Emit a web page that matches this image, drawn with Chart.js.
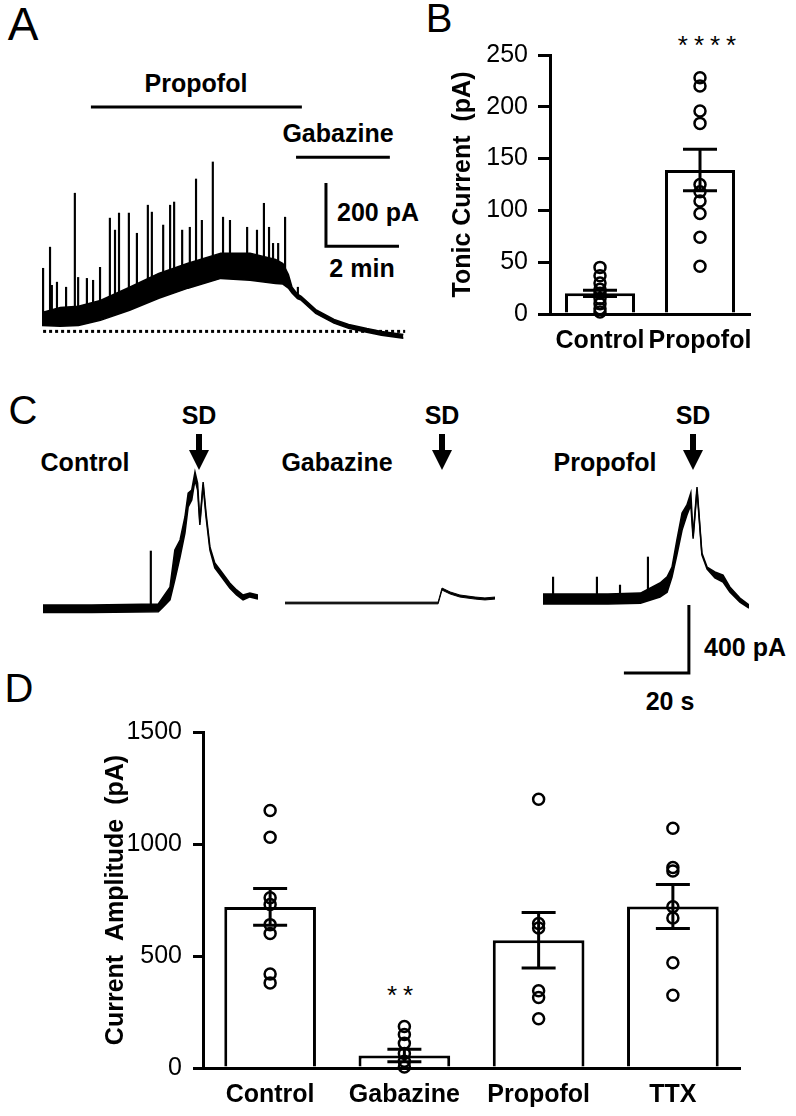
<!DOCTYPE html>
<html>
<head>
<meta charset="utf-8">
<title>Tonic current and SD-evoked current</title>
<script src="https://cdn.jsdelivr.net/npm/chart.js@4.4.1/dist/chart.umd.min.js"></script>
<style>
  body { margin: 0; background: #fff; font-family: "Liberation Sans", Arial, sans-serif; }
  #page { position: relative; width: 796px; height: 1116px; overflow: hidden; }
  .box { position: absolute; }
  .txt { position: absolute; transform: translate(-50%, -50%); font-size: 25px; font-weight: bold; white-space: nowrap; line-height: 1; }
  .letter { position: absolute; transform: translate(-50%, -50%); font-size: 40px; line-height: 1; }
  .stars { position: absolute; transform: translate(-50%, -50%); font-size: 26px; letter-spacing: 6px; line-height: 1; }
  .shaft { position: absolute; width: 6px; height: 17px; background: #000; }
  .head { position: absolute; width: 0; height: 0; border-left: 10px solid transparent; border-right: 10px solid transparent; border-top: 20px solid #000; }
</style>
</head>
<body>
<div id="page">
  <!-- A -->
  <div class="letter" style="left:23px;top:24px;font-size:46px">A</div>
  <div class="txt" style="left:196px;top:83px">Propofol</div>
  <div class="txt" style="left:338px;top:133px">Gabazine</div>
  <div class="txt" style="left:378px;top:212px">200 pA</div>
  <div class="txt" style="left:362px;top:268px">2 min</div>
  <div class="box" style="left:42px;top:79px;width:365px;height:265px"><canvas id="traceA"></canvas></div>

  <!-- B -->
  <div class="letter" style="left:439px;top:18px">B</div>
  <div class="stars" style="left:710px;top:45px">****</div>
  <div class="box" style="left:420px;top:30px;width:350px;height:340px"><canvas id="barB"></canvas></div>

  <!-- C -->
  <div class="letter" style="left:23px;top:410px">C</div>
  <div class="txt" style="left:199px;top:415px">SD</div>
  <div class="txt" style="left:442px;top:415px">SD</div>
  <div class="txt" style="left:693px;top:415px">SD</div>
  <div class="shaft" style="left:196px;top:434px"></div><div class="head" style="left:189px;top:450px"></div>
  <div class="shaft" style="left:439px;top:434px"></div><div class="head" style="left:432px;top:450px"></div>
  <div class="shaft" style="left:690px;top:434px"></div><div class="head" style="left:683px;top:450px"></div>
  <div class="txt" style="left:85px;top:462px">Control</div>
  <div class="txt" style="left:337px;top:462px">Gabazine</div>
  <div class="txt" style="left:605px;top:462px">Propofol</div>
  <div class="txt" style="left:745px;top:647px">400 pA</div>
  <div class="txt" style="left:670px;top:701px">20 s</div>
  <div class="box" style="left:43px;top:456px;width:215px;height:170px"><canvas id="traceC1"></canvas></div>
  <div class="box" style="left:285px;top:450px;width:210px;height:170px"><canvas id="traceC2"></canvas></div>
  <div class="box" style="left:543px;top:446px;width:206px;height:238px"><canvas id="traceC3"></canvas></div>

  <!-- D -->
  <div class="letter" style="left:19px;top:688px">D</div>
  <div class="stars" style="left:403px;top:995px">**</div>
  <div class="box" style="left:80px;top:700px;width:680px;height:416px"><canvas id="barD"></canvas></div>
</div>

<script>
  "use strict";

  // ---- A: tonic current trace (time in min, current in pA above baseline)
  var traceA_t = [0, 0.5, 1.0, 1.6, 2.4, 3.2, 4.0, 4.9, 5.7, 6.4, 6.6, 6.75, 6.85, 7.0, 7.1, 7.5, 8.0, 8.4, 8.9, 9.3, 9.9];
  var traceA_hi = [60, 76, 80, 98, 140, 184, 216, 248, 248, 228, 215, 180, 140, 118, 111, 69, 38, 22, 9, 0, -10];
  var traceA_lo = [19, 16, 19, 35, 67, 105, 137, 168, 162, 152, 150, 137, 122, 104, 99, 57, 26, 10, -3, -12, -22];
  var spikeA_t = [0.03, 0.22, 0.27, 0.41, 0.66, 0.90, 0.99, 1.23, 1.40, 1.59, 1.86, 2.00, 2.11, 2.38, 2.60, 2.90, 3.01, 3.32,
    3.51, 3.62, 3.84, 4.05, 4.22, 4.38, 4.68, 4.96, 5.15, 5.62, 5.89, 6.08, 6.22, 6.33, 6.47, 6.66, 7.01];
  var spikeA_top = [200, 267, 146, 156, 140, 438, 171, 168, 162, 203, 359, 321, 375, 375, 311, 400, 378, 337,
    400, 410, 321, 330, 483, 352, 537, 362, 352, 330, 321, 406, 330, 279, 279, 362, 140];
  var spikeA_base = [40, 40, 40, 40, 40, 45, 45, 50, 55, 60, 80, 85, 90, 100, 110, 130, 135, 150,
    160, 165, 170, 180, 185, 190, 200, 205, 205, 205, 200, 200, 195, 190, 185, 180, 110];
  var propofolA = [1.34, 7.12];   // application period, min
  var gabazineA = [6.96, 9.53];
  var scaleA = { min: 2, pA: 200 };

  // ---- B: tonic current
  var groupsB = ["Control", "Propofol"];
  var meanB = [20, 139];
  var semB = [3, 20];
  var controlB = [45, 37, 30, 24, 20, 15, 10, 5, 2];
  var propofolB = [228, 220, 196, 184, 125, 118, 109, 97, 74, 46];

  // ---- C: SD currents (time in s, current in pA)
  var controlC_t = [0, 15, 35.5, 37.0, 39.1, 40.6, 42.2, 43.7, 44.7, 45.8, 46.8, 47.6, 48.3, 49.3, 50.2, 51.4, 52.9, 55.0, 57.5, 59.6, 61.6, 63.7, 66.2];
  var controlC_hi = [24, 24, 30, 71, 129, 347, 406, 541, 682, 700, 806, 741, 512, 747, 565, 365, 271, 218, 153, 112, 82, 94, 82];
  var controlC_lo = [-20, -20, -16, 12, 53, 171, 306, 447, 600, 641, 759, 700, 494, 729, 541, 347, 241, 188, 124, 82, 53, 71, 59];
  var controlC_spikeT = [33.2];
  var controlC_spikeTop = [341];

  var gabazineC_t = [0, 47.1, 48.3, 50.8, 53.8, 58.5, 61.5, 64.6];
  var gabazineC_hi = [5, 5, 88, 65, 47, 35, 30, 35];
  var gabazineC_lo = [-5, -5, 76, 53, 35, 23, 18, 23];

  var propofolC_t = [0, 10, 20, 30, 36, 38.2, 39.7, 41.2, 42.8, 44.3, 45.5, 46.2, 47.4, 48.9, 50.5, 52.9, 55.4, 57.5, 60.6, 63.4];
  var propofolC_hi = [30, 30, 30, 35, 94, 130, 188, 347, 506, 553, 624, 370, 659, 270, 188, 159, 141, 71, 6, -35];
  var propofolC_lo = [-30, -30, -30, -25, 12, 40, 129, 259, 406, 494, 553, 355, 640, 260, 176, 124, 100, 41, -18, -53];
  var propofolC_spikeT = [3.1, 16.6, 23.7, 32.3];
  var propofolC_spikeTop = [129, 129, 82, 247];
  var scaleC = { s: 20, pA: 400 };

  // ---- D: SD current amplitude
  var groupsD = ["Control", "Gabazine", "Propofol", "TTX"];
  var meanD = [719, 56, 570, 721];
  var semD = [82, 28, 124, 98];
  var controlD = [1150, 1030, 760, 730, 640, 600, 420, 380];
  var gabazineD = [185, 150, 110, 65, 30, 5];
  var propofolD = [1200, 645, 625, 345, 315, 220];
  var ttxD = [1070, 895, 880, 720, 670, 470, 325];

  Chart.defaults.font.family = "'Liberation Sans', Arial, sans-serif";
  Chart.defaults.color = "#000";
  Chart.defaults.animation = false;
  Chart.defaults.events = [];
  Chart.defaults.plugins.legend.display = false;
  Chart.defaults.plugins.tooltip.enabled = false;

  function pts(xs, ys) {
    return xs.map(function (x, i) { return { x: x, y: ys[i] }; });
  }

  // noisy trace = filled band between upper and lower edge
  function band(t, hi, lo, w) {
    return [
      { data: pts(t, hi), borderColor: "#000", borderWidth: w, pointRadius: 0, fill: false, clip: false },
      { data: pts(t, lo), borderColor: "#000", borderWidth: w, pointRadius: 0, fill: "-1", backgroundColor: "#000", clip: false }
    ];
  }

  function spikes(t, base, top) {
    return {
      type: "bar",
      data: t.map(function (x, i) { return { x: x, y: [base[i], top[i]] }; }),
      backgroundColor: "#000", borderWidth: 0, barThickness: 1.5
    };
  }

  function seg(points, w, dash) {
    return { data: points, borderColor: "#000", borderWidth: w, borderDash: dash || [], pointRadius: 0, fill: false, clip: false };
  }

  function traceChart(id, xMax, yMin, yMax, datasets) {
    return new Chart(document.getElementById(id), {
      type: "line",
      data: { datasets: datasets },
      options: {
        responsive: true,
        maintainAspectRatio: false,
        layout: { padding: 0 },
        scales: {
          x: { type: "linear", display: false, min: 0, max: xMax, offset: false },
          y: { display: false, min: yMin, max: yMax }
        }
      }
    });
  }

  // A
  var cornerA = { x: 7.78, y: 270 };
  traceChart("traceA", 10, -40, 800, band(traceA_t, traceA_hi, traceA_lo, 1.5).concat([
    spikes(spikeA_t, spikeA_base, spikeA_top),
    seg([{ x: 0.03, y: 0 }, { x: 9.95, y: 0 }], 3, [3, 3]),
    seg([{ x: propofolA[0], y: 711 }, { x: propofolA[1], y: 711 }], 3),
    seg([{ x: gabazineA[0], y: 552 }, { x: gabazineA[1], y: 552 }], 3),
    seg([{ x: cornerA.x, y: cornerA.y + scaleA.pA }, cornerA, { x: cornerA.x + scaleA.min, y: cornerA.y }], 3)
  ]));

  // C
  traceChart("traceC1", 66.2, -100, 900, band(controlC_t, controlC_hi, controlC_lo, 1.5).concat([
    spikes(controlC_spikeT, controlC_spikeT.map(function () { return 0; }), controlC_spikeTop)
  ]));
  traceChart("traceC2", 64.6, -100, 900, band(gabazineC_t, gabazineC_hi, gabazineC_lo, 1));
  var cornerC = { x: 44.9, y: -435 };
  traceChart("traceC3", 63.4, -500, 900, band(propofolC_t, propofolC_hi, propofolC_lo, 1.5).concat([
    spikes(propofolC_spikeT, propofolC_spikeT.map(function () { return 0; }), propofolC_spikeTop),
    seg([{ x: cornerC.x, y: cornerC.y + scaleC.pA }, cornerC, { x: cornerC.x - scaleC.s, y: cornerC.y }], 3)
  ]));

  // bar + SEM + individual points
  function barChart(id, cats, mean, sem, groups, o) {
    var datasets = [{
      type: "bar", data: mean, backgroundColor: "#fff", borderColor: "#000", borderWidth: 3,
      barPercentage: o.barPct, categoryPercentage: 1, order: 3
    }];
    cats.forEach(function (c, i) {
      datasets.push({
        type: "line", data: [{ x: c, y: mean[i] - sem[i] }, { x: c, y: mean[i] + sem[i] }],
        borderColor: "#000", borderWidth: 3, pointStyle: "line", pointRadius: o.cap,
        pointBorderWidth: 3, pointBorderColor: "#000", order: 2, clip: false
      });
      datasets.push({
        type: "line", data: groups[i].map(function (v) { return { x: c, y: v }; }), showLine: false,
        pointStyle: "circle", pointRadius: 5.5, pointBorderWidth: 2.5, pointBorderColor: "#000",
        pointBackgroundColor: "rgba(0,0,0,0)", order: 1, clip: false
      });
    });
    return new Chart(document.getElementById(id), {
      type: "bar",
      data: { labels: cats, datasets: datasets },
      options: {
        responsive: true,
        maintainAspectRatio: false,
        layout: { padding: { top: o.padTop, right: o.padRight, left: 0, bottom: 0 } },
        scales: {
          x: {
            z: 1,
            grid: { display: false, drawTicks: false },
            border: { display: true, color: "#000", width: 3 },
            ticks: { padding: o.xPad, maxRotation: 0, autoSkip: false, font: { size: 25, weight: "bold" } },
            afterFit: function (s) { s.height = o.xHeight; }
          },
          y: {
            min: 0, max: o.max,
            ticks: {
              stepSize: o.step, padding: o.yPad, font: { size: 25 },
              callback: function (v) { return String(v); }
            },
            grid: { drawOnChartArea: false, drawTicks: true, tickLength: o.tick, tickWidth: 3, tickColor: "#000", color: "#000", lineWidth: 3 },
            border: { display: true, color: "#000", width: 3 },
            title: { display: true, text: o.title, font: { size: 25, weight: "bold" }, padding: { top: o.titlePad, bottom: 0 } },
            afterFit: function (s) { s.width = o.yWidth; }
          }
        }
      }
    });
  }

  barChart("barB", groupsB, meanB, semB, [controlB, propofolB], {
    barPct: 0.7, cap: 17, max: 250, step: 50, title: "Tonic Current  (pA)",
    padTop: 22, padRight: 7, xHeight: 56, yWidth: 130, xPad: 12, yPad: 10, tick: 12, titlePad: 28
  });

  barChart("barD", groupsD, meanD, semD, [controlD, gabazineD, propofolD, ttxD], {
    barPct: 0.683, cap: 17, max: 1500, step: 500, title: "Current  Amplitude  (pA)",
    padTop: 32, padRight: 18, xHeight: 48, yWidth: 123, xPad: 12, yPad: 11, tick: 10, titlePad: 21
  });
</script>
</body>
</html>
